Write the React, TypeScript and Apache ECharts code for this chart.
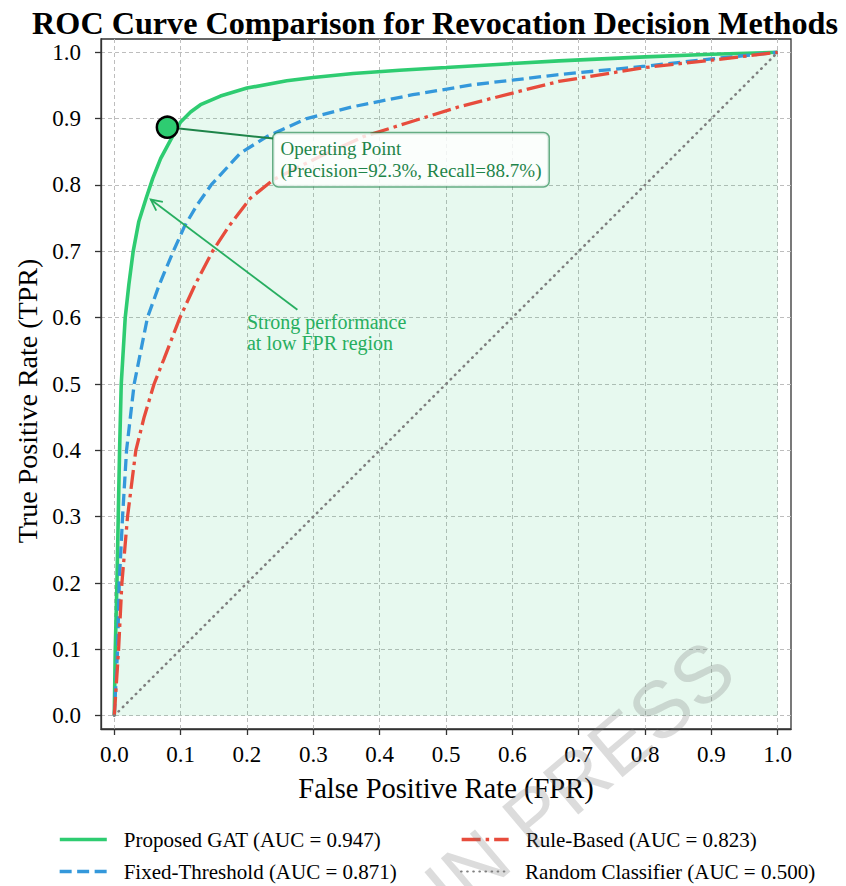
import React, { useEffect, useRef } from 'react';
import * as echarts from 'echarts';

const FONT = '"Liberation Serif", "Times New Roman", serif';

const xTicks = [0, 0.1, 0.2, 0.3, 0.4, 0.5, 0.6, 0.7, 0.8, 0.9, 1.0];
const yTicks = [0, 0.1, 0.2, 0.3, 0.4, 0.5, 0.6, 0.7, 0.8, 0.9, 1.0];

const seriesNames = [
  'Proposed GAT (AUC = 0.947)',
  'Fixed-Threshold (AUC = 0.871)',
  'Rule-Based (AUC = 0.823)',
  'Random Classifier (AUC = 0.500)',
];

const gatFpr = [0, 0.0015, 0.004, 0.006, 0.008, 0.0105, 0.0165, 0.022, 0.0285, 0.037, 0.048, 0.058, 0.07, 0.085, 0.1, 0.115, 0.13, 0.16, 0.2, 0.26, 0.3, 0.36, 0.43, 0.5, 0.6, 0.67, 0.8, 0.9, 1.0];
const gatTpr = [0, 0.1, 0.2, 0.3, 0.4, 0.5, 0.6, 0.65, 0.7, 0.745, 0.78, 0.81, 0.84, 0.868, 0.895, 0.91, 0.921, 0.934, 0.946, 0.957, 0.962, 0.968, 0.973, 0.977, 0.983, 0.987, 0.993, 0.997, 1.0];

const fixedFpr = [0, 0.005, 0.0075, 0.0125, 0.0185, 0.03, 0.038, 0.05, 0.068, 0.089, 0.106, 0.125, 0.146, 0.19, 0.23, 0.29, 0.36, 0.45, 0.54, 0.6, 0.667, 0.8, 0.9, 1.0];
const fixedTpr = [0, 0.1, 0.2, 0.3, 0.4, 0.5, 0.54, 0.6, 0.65, 0.7, 0.738, 0.77, 0.8, 0.848, 0.873, 0.9, 0.918, 0.936, 0.951, 0.958, 0.966, 0.979, 0.99, 1.0];

const ruleFpr = [0, 0.0065, 0.0115, 0.02, 0.0325, 0.045, 0.06, 0.075, 0.099, 0.122, 0.148, 0.173, 0.205, 0.24, 0.31, 0.376, 0.44, 0.52, 0.61, 0.67, 0.8, 0.9, 1.0];
const ruleTpr = [0, 0.1, 0.2, 0.3, 0.4, 0.45, 0.5, 0.538, 0.6, 0.65, 0.7, 0.738, 0.78, 0.808, 0.843, 0.873, 0.893, 0.918, 0.941, 0.956, 0.977, 0.988, 1.0];

const randomFpr = [0, 1];
const randomTpr = [0, 1];

const operatingPoint = [0.08, 0.887];
const operatingText = 'Operating Point\n(Precision=92.3%, Recall=88.7%)';
const strongText = 'Strong performance\nat low FPR region';

const zip = (a: number[], b: number[]) => a.map((v, i) => [v, b[i]]);

export default function App() {
  const ref = useRef<HTMLDivElement>(null);
  useEffect(() => {
    document.body.style.margin = '0';
    const chart = echarts.init(ref.current!, null, { renderer: 'svg' });
    const axisCommon = {
      type: 'value',
      min: -0.02,
      max: 1.02,
      nameLocation: 'middle',
      axisLine: { show: true, onZero: false, lineStyle: { color: '#333', width: 1.3 } },
      splitLine: { show: true, lineStyle: { color: '#bdbdbd', type: [4, 3], width: 1 } },
    };
    const legendItem = (name: string, left: number, top: number, width: number) => ({
      orient: 'vertical', left, top, padding: 0,
      itemWidth: 47, itemHeight: 14,
      itemStyle: { opacity: 0 },
      lineStyle: { width },
      textStyle: { fontFamily: FONT, fontSize: 21, color: '#000', padding: [0, 0, 0, 12] },
      data: [name],
    });
    chart.setOption({
      animation: false,
      backgroundColor: '#fff',
      title: {
        text: 'ROC Curve Comparison for Revocation Decision Methods',
        left: 430,
        top: 2,
        textAlign: 'center',
        textStyle: { fontFamily: FONT, fontWeight: 'bold', fontSize: 32.2, color: '#000' },
      },
      grid: { left: 101, top: 39, width: 690, height: 690, show: true, borderColor: '#333', borderWidth: 1.3 },
      xAxis: {
        ...axisCommon,
        name: 'False Positive Rate (FPR)',
        nameGap: 45,
        nameTextStyle: { fontFamily: FONT, fontSize: 28.5, color: '#000' },
        axisTick: { show: true, length: 6, customValues: xTicks, lineStyle: { color: '#333', width: 1.3 } },
        axisLabel: { customValues: xTicks, formatter: (v: number) => v.toFixed(1), fontFamily: FONT, fontSize: 23, color: '#000', margin: 14 },
      },
      yAxis: {
        ...axisCommon,
        name: 'True Positive Rate (TPR)',
        nameGap: 58,
        nameTextStyle: { fontFamily: FONT, fontSize: 28, color: '#000', padding: [0, 34, 0, 0] },
        axisTick: { show: true, length: 6, customValues: yTicks, lineStyle: { color: '#333', width: 1.3 } },
        axisLabel: { customValues: yTicks, formatter: (v: number) => v.toFixed(1), fontFamily: FONT, fontSize: 23, color: '#000', margin: 20 },
      },
      legend: [
        legendItem(seriesNames[0], 58, 829, 3.6),
        legendItem(seriesNames[1], 58, 861, 3.3),
        legendItem(seriesNames[2], 460, 829, 3.3),
        legendItem(seriesNames[3], 460, 861, 2.2),
      ],
      series: [
        {
          name: seriesNames[0], type: 'line', symbol: 'none', z: 2,
          data: zip(gatFpr, gatTpr),
          lineStyle: { color: '#2ecc71', width: 3.6 },
          itemStyle: { color: '#2ecc71' },
          areaStyle: { color: 'rgba(46,204,113,0.16)' },
        },
        {
          name: seriesNames[1], type: 'line', symbol: 'none', z: 3,
          data: zip(fixedFpr, fixedTpr),
          lineStyle: { color: '#3498db', width: 3.3, type: [12, 5.5] },
          itemStyle: { color: '#3498db' },
        },
        {
          name: seriesNames[2], type: 'line', symbol: 'none', z: 3,
          data: zip(ruleFpr, ruleTpr),
          lineStyle: { color: '#e74c3c', width: 3.3, type: [19, 5, 3.5, 5] },
          itemStyle: { color: '#e74c3c' },
        },
        {
          name: seriesNames[3], type: 'line', symbol: 'none', z: 3,
          data: zip(randomFpr, randomTpr),
          lineStyle: { color: '#808080', width: 2.6, type: [0.5, 5.6], cap: 'round' },
          itemStyle: { color: '#808080' },
        },
        {
          name: 'Operating Point', type: 'scatter', z: 6,
          data: [operatingPoint],
          symbolSize: 21,
          itemStyle: { color: '#2ecc71', borderColor: '#000', borderWidth: 2.5, opacity: 1 },
        },
      ],
    });

    const p = (x: number, y: number) => chart.convertToPixel({ gridIndex: 0 }, [x, y]) as number[];
    const op = p(operatingPoint[0], operatingPoint[1]);
    const boxTL = p(0.24, 0.878);
    const boxLeftMid = p(0.24, 0.87);
    const head = p(0.055, 0.778);
    const tail = p(0.276, 0.612);
    const strongTL = p(0.2, 0.61);
    const dx = head[0] - tail[0];
    const dy = head[1] - tail[1];
    const len = Math.sqrt(dx * dx + dy * dy);
    const ux = dx / len, uy = dy / len;
    const nx = -uy, ny = ux;
    const hl = 11, hw = 5.5;
    const a1 = [head[0] - ux * hl + nx * hw, head[1] - uy * hl + ny * hw];
    const a2 = [head[0] - ux * hl - nx * hw, head[1] - uy * hl - ny * hw];

    chart.setOption({
      graphic: [
        {
          type: 'line', z: 5,
          shape: { x1: op[0], y1: op[1], x2: boxLeftMid[0], y2: boxLeftMid[1] },
          style: { stroke: '#1e8449', lineWidth: 2 },
        },
        {
          type: 'text', z: 5, x: boxTL[0], y: boxTL[1],
          style: {
            text: operatingText, fill: '#1e8449', fontFamily: FONT, fontSize: 19, lineHeight: 22,
            align: 'left', verticalAlign: 'top', textAlign: 'left', textVerticalAlign: 'top',
            backgroundColor: 'rgba(255,255,255,0.82)', borderColor: 'rgba(30,132,73,0.65)', borderWidth: 1.5,
            borderRadius: 5, padding: [4, 7, 5, 7],
          },
        },
        {
          type: 'line', z: 5,
          shape: { x1: tail[0], y1: tail[1], x2: head[0], y2: head[1] },
          style: { stroke: '#27ae60', lineWidth: 1.8 },
        },
        {
          type: 'polyline', z: 5,
          shape: { points: [a1, head, a2] },
          style: { stroke: '#27ae60', lineWidth: 1.8, fill: 'none' },
        },
        {
          type: 'text', z: 5, x: strongTL[0], y: strongTL[1],
          style: {
            text: strongText, fill: '#27ae60', fontFamily: FONT, fontSize: 20, lineHeight: 21,
            align: 'left', verticalAlign: 'top', textAlign: 'left', textVerticalAlign: 'top',
          },
        },
        {
          type: 'text', z: 100, x: 748, y: 688, rotation: 0.7,
          style: {
            text: 'ARTICLE IN PRESS', fill: 'rgba(120,120,120,0.26)',
            fontFamily: '"Liberation Sans", Arial, sans-serif', fontSize: 80,
            align: 'right', verticalAlign: 'bottom', textAlign: 'right', textVerticalAlign: 'bottom',
          },
        },
      ],
    });
    return () => chart.dispose();
  }, []);
  return <div ref={ref} style={{ width: 846, height: 886 }} />;
}
